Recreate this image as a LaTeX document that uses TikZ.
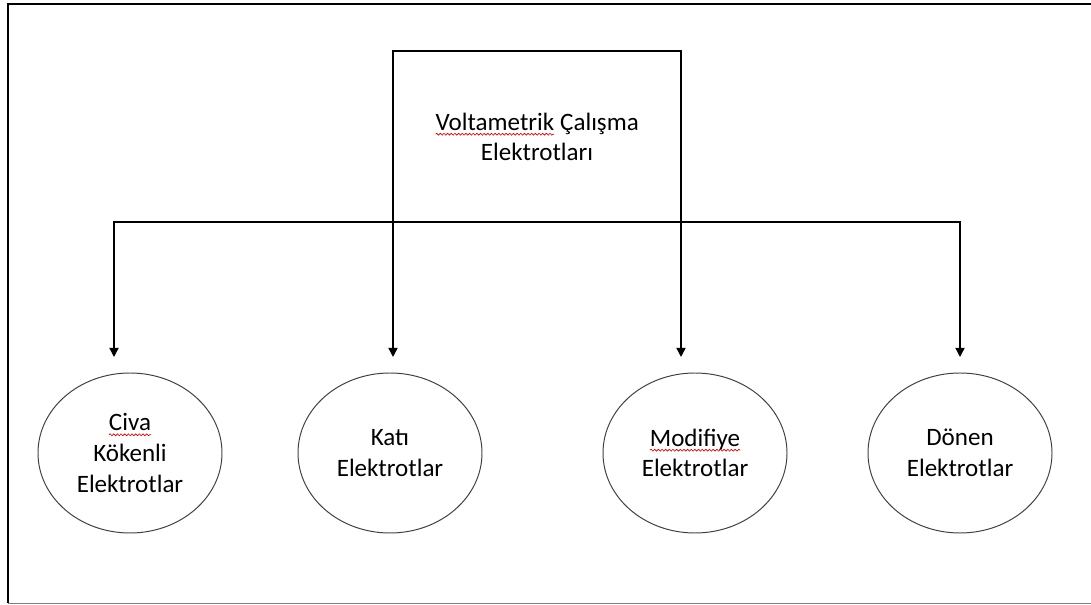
\documentclass[tikz,border=0pt]{standalone}
\usepackage{fontspec}
\setmainfont{Carlito}
\usetikzlibrary{shapes.geometric}
\usetikzlibrary{arrows.meta}
\usetikzlibrary{decorations.pathmorphing}

% red spell-check wave under a word
\newcommand{\spellmark}[1]{\tikz[baseline=(w.base)]{%
	\node[shape=rectangle, draw=none, inner sep=0pt, outer sep=0pt, minimum width=0pt, minimum height=0pt] (w) {#1};
	\draw[red!85!black, line width=0.45pt, decorate, decoration={snake, amplitude=0.7pt, segment length=2.6pt}]
		([yshift=-2.8pt]w.base west) -- ([yshift=-2.8pt]w.base east);}}

\tikzset{
  labeltext/.style={align=center, font=\fontsize{17.8}{21.8}\selectfont},
  electrode/.style={labeltext, draw=black!75, line width=0.7pt, ellipse, minimum width=4.6cm, minimum height=4cm, inner sep=0pt},
  branch/.style={line width=1pt, -{Triangle[width=6.5pt,length=6.5pt]}},
}

\begin{document}
\begin{tikzpicture}
	\useasboundingbox (0,0) rectangle (27.275,15.125);

	% Frame of the page
	\draw[line width=1.6pt] (0.2,0.05) -- (0.2,15.025) -- (27.275,15.025);
	\draw[line width=0.8pt, black!50] (0.2,0.03) -- (27.275,0.03);

	% Title and the two points where the branches leave
	\node[labeltext] (title) at (13.425,11.7) {\spellmark{Voltametrik} Çalışma\\Elektrotları};
	\coordinate (top) at (13.425,13.85);
	\coordinate (bar) at (13.425,9.575);

	% Electrodes
	\node[electrode] (civa) at (3.25,3.8) {\spellmark{Civa}\\Kökenli\\Elektrotlar};
	\node[electrode] (kati) at (9.75,3.8) {Katı\\Elektrotlar};
	\node[electrode] (modifiye) at (17.375,3.8) {\spellmark{Modifiye}\\Elektrotlar};
	\node[electrode] (donen) at (24.0,3.8) {Dönen\\Elektrotlar};

	% Arrow ends just above the ellipses
	\coordinate (civain) at (2.85,6.2);
	\coordinate (katiin) at (9.825,6.2);
	\coordinate (modifiyein) at (17.025,6.2);
	\coordinate (donenin) at (24.0,6.2);

	\draw[branch] (bar) -| (civain);
	\draw[branch] (bar) -| (donenin);
	\draw[branch] (top) -| (katiin);
	\draw[branch] (top) -| (modifiyein);
\end{tikzpicture}
\end{document}
